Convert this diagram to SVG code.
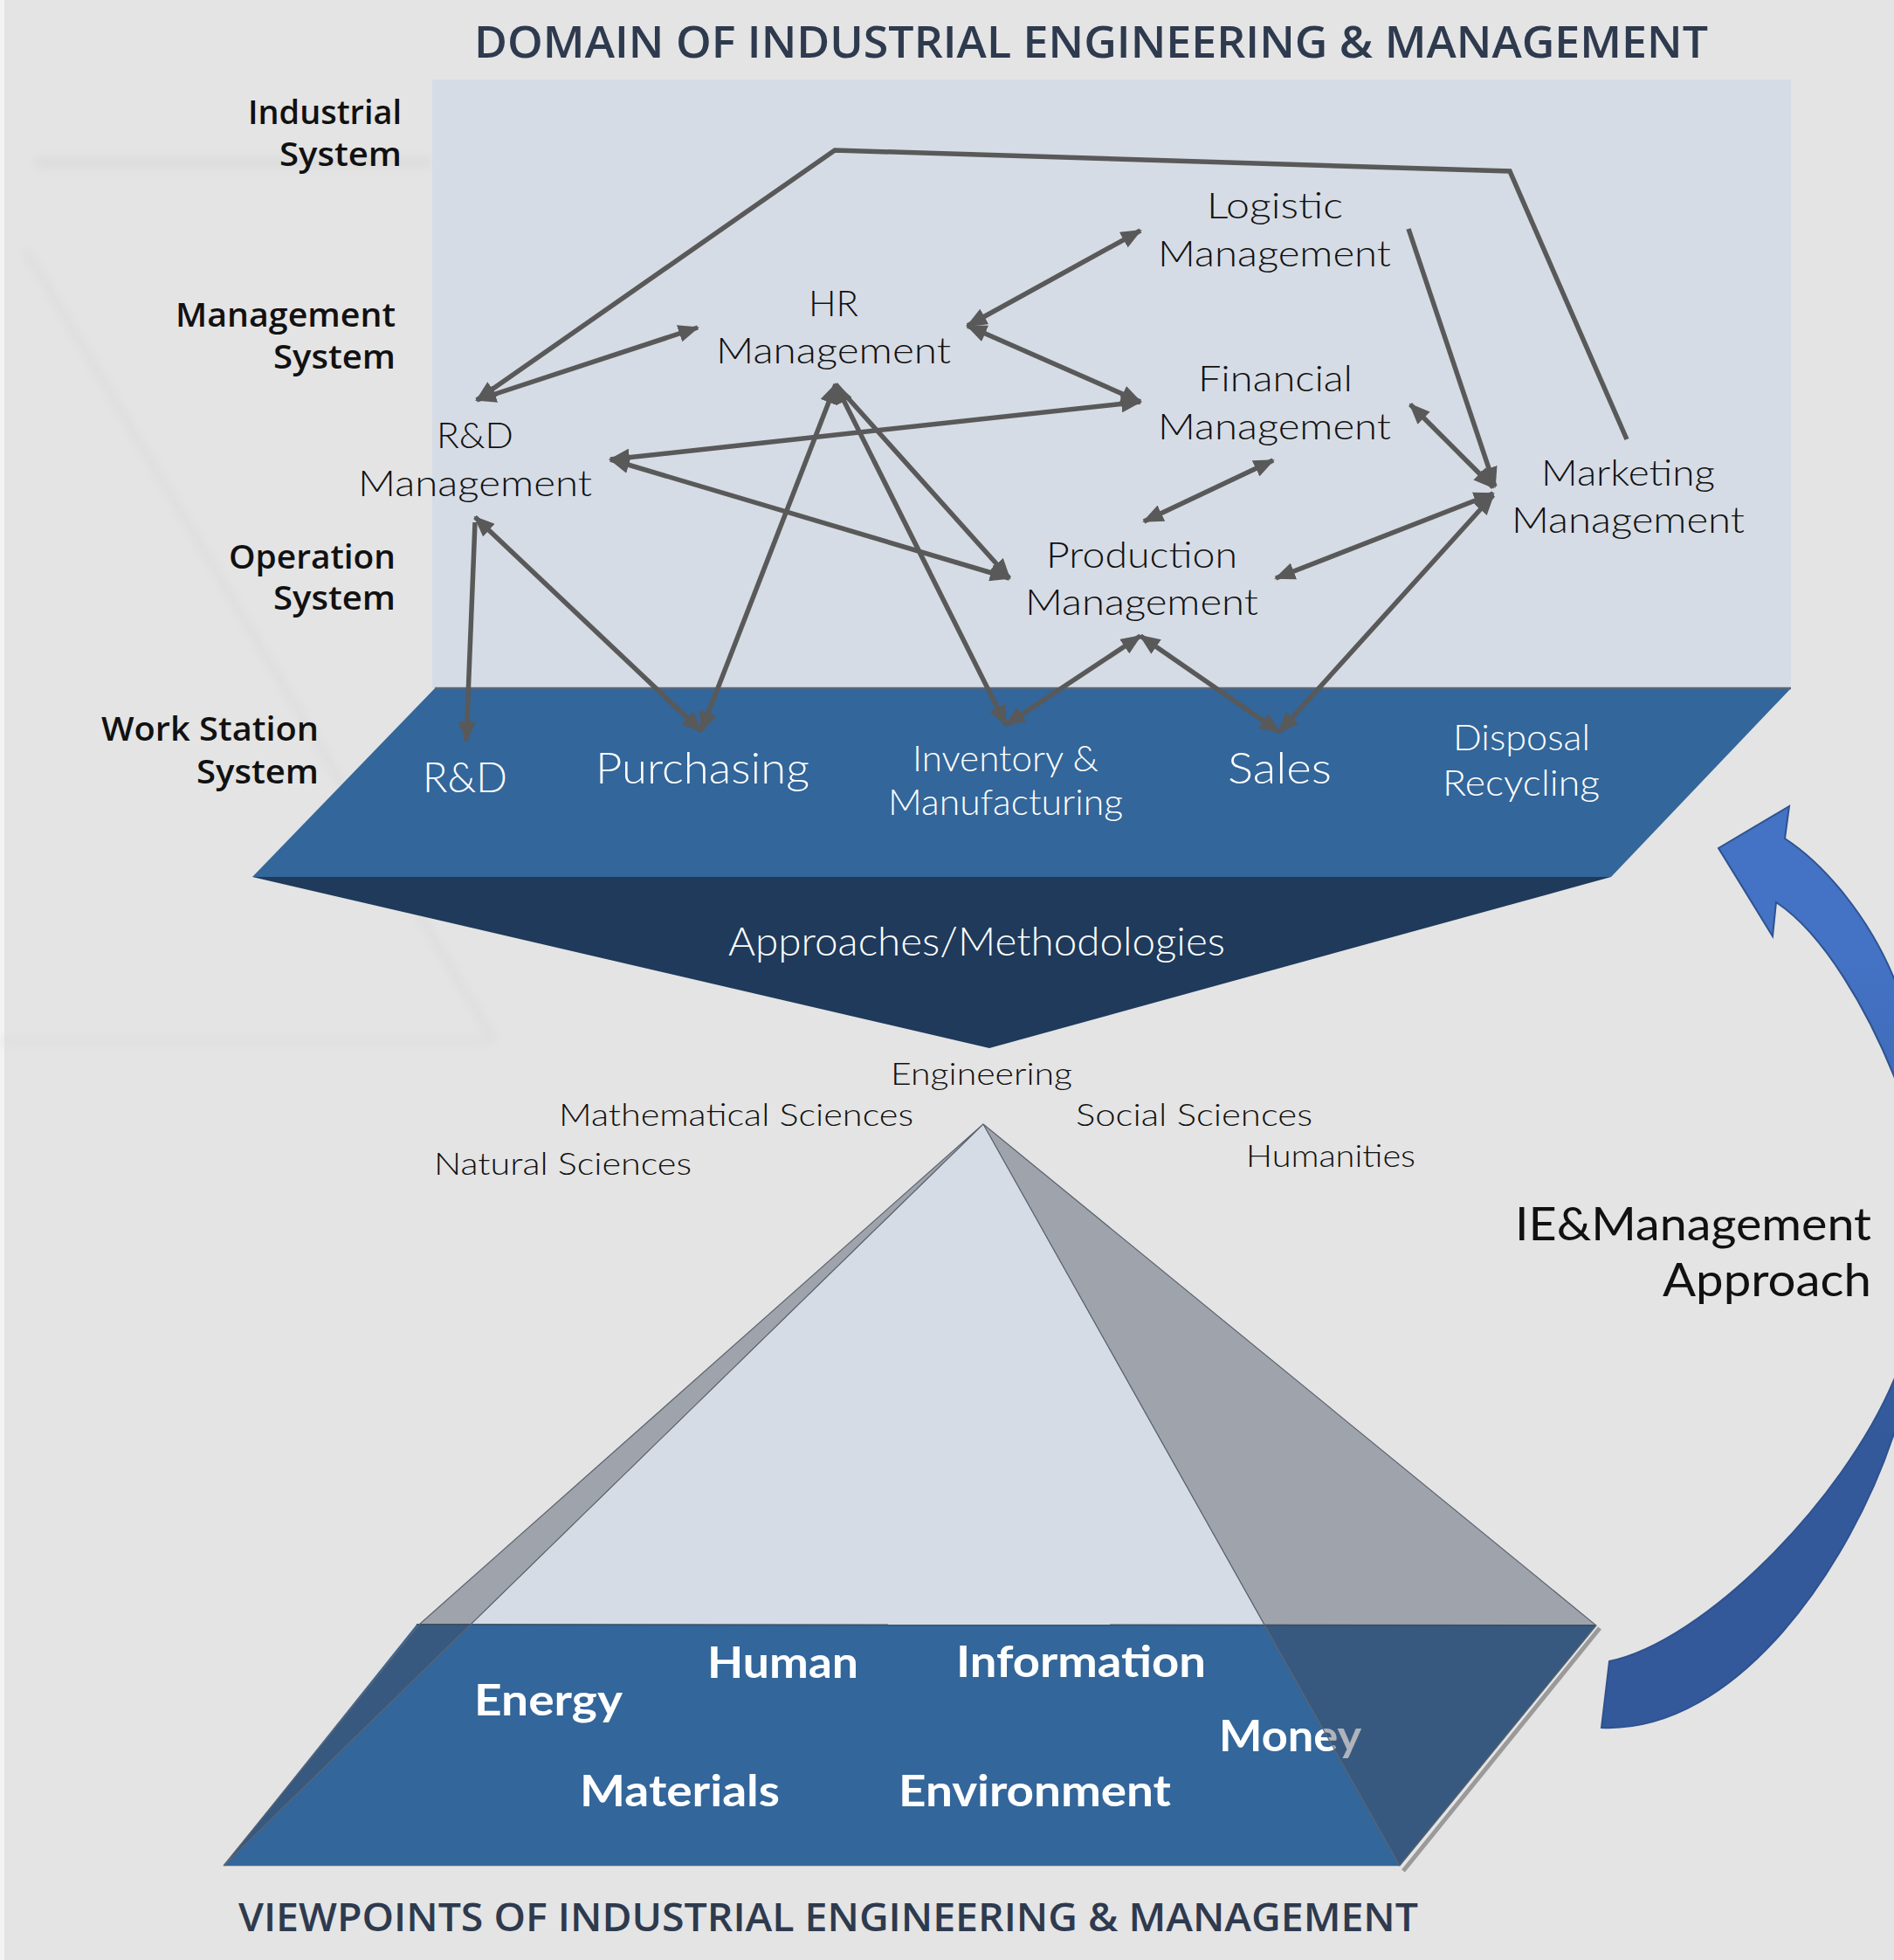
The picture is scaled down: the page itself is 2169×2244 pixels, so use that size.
<svg xmlns="http://www.w3.org/2000/svg" width="2169" height="2244" viewBox="0 0 2169 2244">
<defs>
<style>
.ttl{font-family:"Open Sans","Liberation Sans",sans-serif;font-weight:600;fill:#2e3a4e}
.lvl{font-family:"Open Sans","Liberation Sans",sans-serif;font-weight:600;font-size:37px;fill:#111}
.nd{font-family:Lato,"Liberation Sans",sans-serif;font-weight:300;font-size:41px;fill:#111}
.ie{font-family:Lato,"Liberation Sans",sans-serif;font-weight:400;font-size:52px;fill:#111}
.ws{font-family:Lato,"Liberation Sans",sans-serif;font-weight:300;fill:#fff}
.sci{font-family:Lato,"Liberation Sans",sans-serif;font-weight:300;font-size:35px;fill:#111}
.res{font-family:Lato,"Liberation Sans",sans-serif;font-weight:700;font-size:50px;fill:#fff}
.con line,.con polyline{stroke:#595959;stroke-width:5.5;fill:none}
.bi{marker-start:url(#ah);marker-end:url(#ah)}
.en{marker-end:url(#ah)}
.st{marker-start:url(#ah)}
.face{fill:#3d475a;fill-opacity:0.41;stroke:#5d6472;stroke-width:1.2}
</style>
<marker id="ah" viewBox="0 0 12 10" refX="11" refY="5" markerWidth="24" markerHeight="20" markerUnits="userSpaceOnUse" orient="auto-start-reverse">
<path d="M0,0 L12,5 L0,10 z" fill="#595959"/>
</marker>
<linearGradient id="arrowg" x1="0" y1="1100" x2="0" y2="1650" gradientUnits="userSpaceOnUse">
<stop offset="0" stop-color="#4472c4"/>
<stop offset="1" stop-color="#33599b"/>
</linearGradient>
<filter id="blur" x="-20%" y="-20%" width="140%" height="140%"><feGaussianBlur stdDeviation="6"/></filter>
</defs>

<g id="background">
<rect x="0" y="0" width="2169" height="2244" fill="#e4e4e4"/>
<rect x="0" y="0" width="5" height="2244" fill="#f3f3f3"/>
<g filter="url(#blur)" stroke="#d9d9d9" fill="none">
<line x1="40" y1="186" x2="495" y2="186" stroke-width="9"/>
<line x1="29" y1="286" x2="565" y2="1190" stroke-width="5"/>
<line x1="0" y1="1192" x2="565" y2="1192" stroke-width="4"/>
</g>
</g>

<g id="industrial-system-panel">
<rect x="495" y="91" width="1556" height="697" fill="#d6dce5"/>
</g>

<g id="work-station-system">
<polygon points="498,788 2051,788 1845,1004 289,1004" fill="#33669a"/>
<line x1="498" y1="788" x2="2051" y2="788" stroke="#56677c" stroke-width="2.5"/>
</g>

<g id="approaches">
<polygon points="289,1004 1845,1004 1133,1200" fill="#1f3a5b"/>
<text class="ws" x="834" y="1094" font-size="45" textLength="569" lengthAdjust="spacingAndGlyphs">Approaches/Methodologies</text>
</g>

<g id="titles">
<text class="ttl" x="543" y="66" font-size="50" textLength="1413" lengthAdjust="spacingAndGlyphs">DOMAIN OF INDUSTRIAL ENGINEERING &amp; MANAGEMENT</text>
<text class="ttl" x="273" y="2211" font-size="46" textLength="1351" lengthAdjust="spacingAndGlyphs">VIEWPOINTS OF INDUSTRIAL ENGINEERING &amp; MANAGEMENT</text>
</g>

<g id="level-labels">
<text class="lvl" x="284" y="142" textLength="176" lengthAdjust="spacingAndGlyphs">Industrial</text>
<text class="lvl" x="320" y="190" textLength="140" lengthAdjust="spacingAndGlyphs">System</text>
<text class="lvl" x="201" y="374" textLength="252" lengthAdjust="spacingAndGlyphs">Management</text>
<text class="lvl" x="313" y="422" textLength="140" lengthAdjust="spacingAndGlyphs">System</text>
<text class="lvl" x="262" y="651" textLength="191" lengthAdjust="spacingAndGlyphs">Operation</text>
<text class="lvl" x="313" y="698" textLength="140" lengthAdjust="spacingAndGlyphs">System</text>
<text class="lvl" x="116" y="848" textLength="249" lengthAdjust="spacingAndGlyphs">Work Station</text>
<text class="lvl" x="225" y="897" textLength="140" lengthAdjust="spacingAndGlyphs">System</text>
</g>

<g id="connectors" class="con">
<polyline class="st" points="546,458 956,172 1729,196 1863,503" stroke-linejoin="miter"/>
<line class="bi" x1="546" y1="458" x2="799" y2="375"/>
<line class="bi" x1="957" y1="440" x2="803" y2="837"/>
<line class="bi" x1="544" y1="592" x2="803" y2="837"/>
<line class="en" x1="544" y1="598" x2="534" y2="848"/>
<line class="en" x1="957" y1="440" x2="1156" y2="662"/>
<line class="bi" x1="957" y1="440" x2="1152" y2="830"/>
<line class="bi" x1="699" y1="526" x2="1306" y2="460"/>
<line class="bi" x1="699" y1="526" x2="1156" y2="662"/>
<line class="bi" x1="1108" y1="373" x2="1306" y2="264"/>
<line class="bi" x1="1108" y1="373" x2="1306" y2="460"/>
<line class="en" x1="1613" y1="262" x2="1712" y2="557"/>
<line class="bi" x1="1615" y1="463" x2="1710" y2="558"/>
<line class="bi" x1="1458" y1="527" x2="1310" y2="597"/>
<line class="bi" x1="1461" y1="662" x2="1710" y2="565"/>
<line class="bi" x1="1465" y1="838" x2="1710" y2="567"/>
<line class="bi" x1="1306" y1="728" x2="1152" y2="830"/>
<line class="bi" x1="1306" y1="728" x2="1465" y2="838"/>
</g>

<g id="node-hr"><text class="nd" x="926" y="362" textLength="57" lengthAdjust="spacingAndGlyphs">HR</text><text class="nd" x="820" y="416" textLength="269" lengthAdjust="spacingAndGlyphs">Management</text></g>
<g id="node-rd-mgmt"><text class="nd" x="500" y="513" textLength="88" lengthAdjust="spacingAndGlyphs">R&amp;D</text><text class="nd" x="410" y="568" textLength="268" lengthAdjust="spacingAndGlyphs">Management</text></g>
<g id="node-logistic"><text class="nd" x="1382" y="250" textLength="156" lengthAdjust="spacingAndGlyphs">Logistic</text><text class="nd" x="1326" y="305" textLength="267" lengthAdjust="spacingAndGlyphs">Management</text></g>
<g id="node-financial"><text class="nd" x="1372" y="448" textLength="177" lengthAdjust="spacingAndGlyphs">Financial</text><text class="nd" x="1326" y="503" textLength="267" lengthAdjust="spacingAndGlyphs">Management</text></g>
<g id="node-production"><text class="nd" x="1198" y="650" textLength="219" lengthAdjust="spacingAndGlyphs">Production</text><text class="nd" x="1174" y="704" textLength="267" lengthAdjust="spacingAndGlyphs">Management</text></g>
<g id="node-marketing"><text class="nd" x="1765" y="556" textLength="199" lengthAdjust="spacingAndGlyphs">Marketing</text><text class="nd" x="1731" y="610" textLength="267" lengthAdjust="spacingAndGlyphs">Management</text></g>

<g id="node-rd"><text class="ws" x="484" y="907" font-size="47" textLength="97" lengthAdjust="spacingAndGlyphs">R&amp;D</text></g>
<g id="node-purchasing"><text class="ws" x="682" y="897" font-size="49" textLength="245" lengthAdjust="spacingAndGlyphs">Purchasing</text></g>
<g id="node-inventory"><text class="ws" x="1045" y="883" font-size="41" textLength="213" lengthAdjust="spacingAndGlyphs">Inventory &amp;</text><text class="ws" x="1017" y="933" font-size="41" textLength="269" lengthAdjust="spacingAndGlyphs">Manufacturing</text></g>
<g id="node-sales"><text class="ws" x="1406" y="897" font-size="49" textLength="119" lengthAdjust="spacingAndGlyphs">Sales</text></g>
<g id="node-disposal"><text class="ws" x="1664" y="859" font-size="42" textLength="157" lengthAdjust="spacingAndGlyphs">Disposal</text><text class="ws" x="1652" y="911" font-size="42" textLength="180" lengthAdjust="spacingAndGlyphs">Recycling</text></g>

<g id="sciences">
<text class="sci" x="1020" y="1242" textLength="208" lengthAdjust="spacingAndGlyphs">Engineering</text>
<text class="sci" x="640" y="1289" textLength="406" lengthAdjust="spacingAndGlyphs">Mathematical Sciences</text>
<text class="sci" x="497" y="1345" textLength="295" lengthAdjust="spacingAndGlyphs">Natural Sciences</text>
<text class="sci" x="1232" y="1289" textLength="271" lengthAdjust="spacingAndGlyphs">Social Sciences</text>
<text class="sci" x="1427" y="1336" textLength="194" lengthAdjust="spacingAndGlyphs">Humanities</text>
</g>

<g id="pyramid">
<line x1="1832" y1="1864" x2="1607" y2="2142" stroke="#9a9a9a" stroke-width="5"/>
<polygon points="1126,1287 256,2136 1603,2136" fill="#d6dce5" stroke="#8c929c" stroke-width="1"/>
<polygon points="477,1860 1828,1861 1603,2136 256,2136" fill="#33669a"/>
<line x1="477" y1="1860" x2="1828" y2="1861" stroke="#3b5570" stroke-width="2"/>
<text class="res" x="810" y="1921" textLength="173" lengthAdjust="spacingAndGlyphs">Human</text>
<text class="res" x="543" y="1964" font-size="52" textLength="170" lengthAdjust="spacingAndGlyphs">Energy</text>
<text class="res" x="664" y="2068" textLength="229" lengthAdjust="spacingAndGlyphs">Materials</text>
<text class="res" x="1095" y="1920" textLength="286" lengthAdjust="spacingAndGlyphs">Information</text>
<text class="res" x="1029" y="2068" textLength="312" lengthAdjust="spacingAndGlyphs">Environment</text>
<text class="res" x="1396" y="2005" textLength="163" lengthAdjust="spacingAndGlyphs">Money</text>
<polygon class="face" points="1126,1287 480,1860 256,2136"/>
<polygon class="face" points="1126,1287 1828,1861 1603,2136"/>
</g>

<g id="ie-approach">
<path d="M2049 923 L1968 971 L2030 1072 L2034 1033 C2090 1070 2140 1160 2169 1232 C2210 1320 2215 1470 2169 1580 C2110 1720 1950 1880 1843 1902 L1834 1978 C1990 1985 2120 1790 2169 1641 C2240 1500 2230 1260 2169 1120 C2140 1050 2090 990 2044 960 Z" fill="url(#arrowg)" stroke="#2f528f" stroke-width="2"/>
<text class="ie" x="1735" y="1420" textLength="408" lengthAdjust="spacingAndGlyphs">IE&amp;Management</text>
<text class="ie" x="1904" y="1484" textLength="239" lengthAdjust="spacingAndGlyphs">Approach</text>
</g>
</svg>
